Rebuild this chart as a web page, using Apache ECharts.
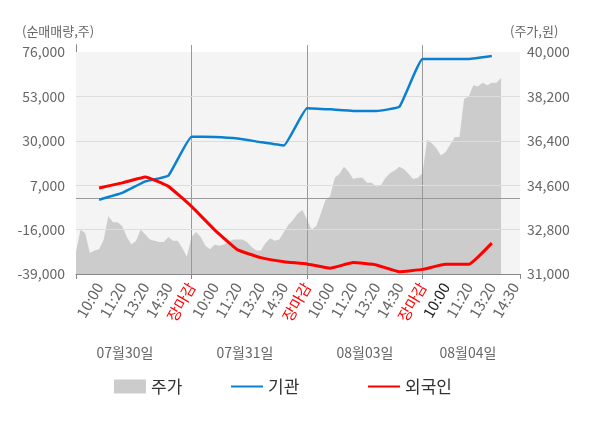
<html>
<head>
    <meta charset="utf-8">
    <title></title>
    <script src="https://cdn.jsdelivr.net/npm/echarts@6.0.0/dist/echarts.min.js" type="text/javascript"></script>
    <style>html, body { margin: 0; padding: 0; background: #fff; }</style>
</head>
<body>
    <div id="main" style="width: 600px; height: 428px"></div>
    <script>
        // x 눈금 라벨 (하루 5칸)
        var timeLabels = ['10:00', '11:20', '13:20', '14:30', '장마감'];
        var dayLabels = ['07월30일', '07월31일', '08월03일', '08월04일'];

        // 주가 (한 칸에 5개씩)
        var price = [31900, 32800, 32650, 31850, 31950, 32000, 32400, 33350, 33100, 33100,
            32950, 32500, 32200, 32350, 32800, 32600, 32400, 32350, 32300, 32300,
            32500, 32350, 32350, 32050, 31700, 32500, 32700, 32500, 32150, 32000,
            32200, 32150, 32200, 32300, 32400, 32400, 32400, 32300, 32100, 31950,
            31950, 32250, 32450, 32350, 32400, 32700, 33000, 33200, 33450, 33600,
            33200, 32800, 32950, 33450, 34000, 34150, 34900, 35050, 35350, 35150,
            34850, 34900, 34900, 34700, 34700, 34550, 34600, 34900, 35100, 35200,
            35350, 35250, 35050, 34850, 34900, 35100, 36450, 36300, 36100, 35800,
            35950, 36250, 36550, 36550, 38100, 38200, 38650, 38600, 38750, 38650,
            38750, 38750, 38950];

        // 누적 순매매량 (10:00 칸부터)
        var inst = [-500, 3000, 9000, 12000, 32100, 32000, 31200, 29300, 27600,
            46900, 46300, 45500, 45500, 47700, 72400, 72400, 72400, 73900];
        var foreign = [5600, 8200, 11300, 6400, -4000, -16100, -26500, -30500, -32600,
            -33800, -36000, -33100, -34300, -37800, -36600, -34000, -34000, -23000];

        var leftMin = -39000, leftMax = 76000, leftStep = 23000;
        var rightMin = 31000, rightMax = 40000, rightStep = 1800;
        var STEP = 0.2;      // 주가 샘플 간격 (칸)
        var XMAX = 19.22;
        var EXTRA = 7 / 221; // 축선이 위로 조금 더 올라감

        function fmt(v) { return v.toLocaleString('en-US'); }

        window.onload = function () {
            var myChart = echarts.init(document.getElementById('main'));
            var font = 'Noto Sans CJK KR';
            var leftRange = leftMax - leftMin, rightRange = rightMax - rightMin;

            var priceData = price.map(function (p, i) { return [i * STEP, p - rightMin]; });
            var instData = inst.map(function (v, i) { return [i + 1, v - leftMin]; });
            var foreignData = foreign.map(function (v, i) { return [i + 1, v - leftMin]; });

            var gridLines = [];
            for (var g = leftMin + leftStep; g < leftMax; g += leftStep) {
                gridLines.push({ yAxis: g - leftMin, lineStyle: { color: '#dddddd', width: 1, type: 'solid' } });
            }
            gridLines.push({ yAxis: 0 - leftMin, lineStyle: { color: '#999999', width: 1, type: 'solid' } });

            var option = {
                animation: false,
                textStyle: { fontFamily: font },
                grid: { left: 76, right: 80, top: 45, bottom: 154 },
                legend: [
                    { data: [{ name: '주가', icon: 'rect', itemStyle: { color: '#cccccc' } }], left: 114, top: 378 },
                    { data: [{ name: '기관', itemStyle: { opacity: 0 } }], left: 230, top: 378 },
                    { data: [{ name: '외국인', itemStyle: { opacity: 0 } }], left: 367, top: 378 }
                ].map(function (l) {
                    l.itemWidth = 32; l.itemHeight = 14; l.selectedMode = false; l.padding = 0;
                    l.textStyle = { fontSize: 17, color: '#333', fontFamily: font };
                    return l;
                }),
                graphic: [
                    { type: 'text', left: 22, top: 25, style: { text: '(순매매량,주)', fill: '#666', font: '13px "' + font + '"' } },
                    { type: 'text', left: 510, top: 25, style: { text: '(주가,원)', fill: '#666', font: '13px "' + font + '"' } }
                ].concat(dayLabels.map(function (d, i) {
                    var xs = [125, 245, 365, 468];
                    return { type: 'text', x: xs[i], y: 353, style: { text: d, fill: '#666', font: '14px "' + font + '"', align: 'center', verticalAlign: 'middle' } };
                })),
                xAxis: [{
                    type: 'value', min: 0, max: XMAX, interval: 1, position: 'bottom',
                    axisLine: { show: true, lineStyle: { color: '#888' } },
                    axisTick: { show: false },
                    splitLine: { show: false },
                    axisLabel: {
                        rotate: 60, margin: 10, fontSize: 15, color: '#666',
                        showMaxLabel: true, showMinLabel: true,
                        formatter: function (v) {
                            if (v < 1 || Math.abs(v - Math.round(v)) > 1e-6) return '';
                            v = Math.round(v);
                            var t = timeLabels[(v - 1) % 5];
                            if (t === '장마감') return '{r|' + t + '}';
                            if (v === 16) return '{d|' + t + '}';
                            return t;
                        },
                        rich: {
                            r: { color: '#ff0000', fontSize: 15, fontFamily: font },
                            d: { color: '#222', fontSize: 15, fontFamily: font }
                        }
                    }
                }, {
                    type: 'value', min: 0, max: XMAX, interval: 5, position: 'bottom',
                    axisLine: { show: false },
                    axisTick: { show: true, length: 5, lineStyle: { color: '#888' } },
                    axisLabel: { show: false },
                    splitLine: { show: false }
                }],
                yAxis: [{
                    type: 'value', position: 'left', min: 0, max: leftRange * (1 + EXTRA), interval: leftStep,
                    axisLine: { show: true, lineStyle: { color: '#888' } },
                    axisTick: { show: false },
                    splitLine: { show: false },
                    axisLabel: {
                        margin: 11, fontSize: 14, color: '#666', showMaxLabel: true,
                        formatter: function (v) { return (v % leftStep === 0) ? fmt(v + leftMin) : ''; }
                    }
                }, {
                    type: 'value', position: 'right', min: 0, max: rightRange * (1 + EXTRA), interval: rightStep,
                    axisLine: { show: true, lineStyle: { color: '#888' } },
                    axisTick: { show: false },
                    splitLine: { show: false },
                    axisLabel: {
                        margin: 7, fontSize: 14, color: '#666', showMaxLabel: true,
                        formatter: function (v) { return (v % rightStep === 0) ? fmt(v + rightMin) : ''; }
                    }
                }],
                series: [{
                    name: '주가', type: 'line', xAxisIndex: 0, yAxisIndex: 1,
                    data: priceData, symbol: 'none', showSymbol: false,
                    lineStyle: { width: 0 },
                    itemStyle: { color: '#cccccc' },
                    areaStyle: { color: '#cccccc', opacity: 1 },
                    markArea: {
                        silent: true,
                        itemStyle: { color: '#f4f4f4' },
                        data: [[{ yAxis: 0 }, { yAxis: rightRange }]]
                    },
                    markLine: {
                        silent: true, symbol: 'none', label: { show: false },
                        lineStyle: { color: '#999', width: 1, type: 'solid' },
                        data: [{ xAxis: 5 }, { xAxis: 10 }, { xAxis: 15 }]
                    }
                }, {
                    name: '기관', type: 'line', xAxisIndex: 0, yAxisIndex: 0, z: 6,
                    data: instData, symbol: 'none', showSymbol: false, smooth: 0.1,
                    lineStyle: { width: 2.5, color: '#0a80d0' },
                    itemStyle: { color: '#0a80d0' },
                    markLine: {
                        silent: true, symbol: 'none', label: { show: false },
                        data: gridLines
                    }
                }, {
                    name: '외국인', type: 'line', xAxisIndex: 0, yAxisIndex: 0, z: 7,
                    data: foreignData, symbol: 'none', showSymbol: false, smooth: 0.1,
                    lineStyle: { width: 3, color: '#ff0000' },
                    itemStyle: { color: '#ff0000' }
                }]
            };
            myChart.setOption(option);
        };
    </script>
</body>
</html>
